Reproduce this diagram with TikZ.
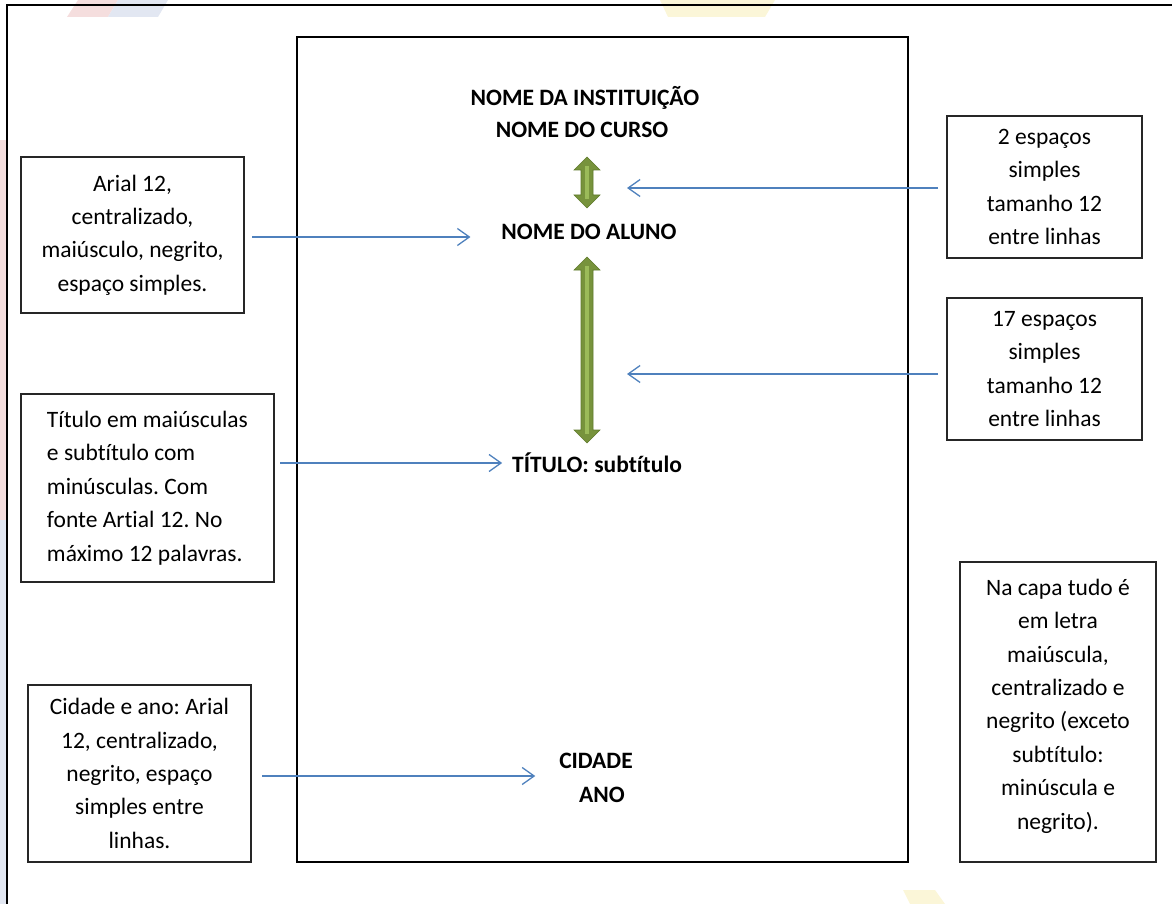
\documentclass[tikz,border=0pt]{standalone}
\usepackage{fontspec}
\setmainfont{Carlito}[Ligatures=NoCommon]
\usetikzlibrary{arrows.meta,calc}
\definecolor{pointerblue}{HTML}{4F81BD}
\definecolor{arrowgreen}{HTML}{77933C}
\definecolor{arrowlight}{HTML}{9BBB59}
\definecolor{arrowedge}{HTML}{5F7A2C}
\definecolor{markred}{HTML}{F5DEDE}
\definecolor{markblue}{HTML}{E2E7F2}
\definecolor{markyellow}{HTML}{FBF6D8}

% vertical double-headed spacer arrow: x, top y, bottom y
\newcommand{\spacerarrow}[3]{%
  \filldraw[fill=arrowgreen, draw=arrowedge, line width=0.6pt]
    (#1,#2) -- (#1+13,#2+13) -- (#1+6,#2+13) -- (#1+6,#3-13) -- (#1+13,#3-13)
    -- (#1,#3) -- (#1-13,#3-13) -- (#1-6,#3-13) -- (#1-6,#2+13) -- (#1-13,#2+13) -- cycle;
  \fill[arrowlight] (#1-2,#2+9) rectangle (#1+2,#3-9);
}

\begin{document}
\frenchspacing
\begin{tikzpicture}[x=1pt,y=-1pt,
  every node/.style={inner sep=0pt, outer sep=0pt},
  boxtext/.style={font=\fontsize{23.5}{33.4}\selectfont},
  infobox/.style={draw=black!85, line width=1.4pt, boxtext, align=center},
  heading/.style={font=\fontsize{23.5}{33.4}\selectfont\bfseries, anchor=base},
  pointer/.style={draw=pointerblue, line width=1.3pt,
    -{Straight Barb[length=12pt,width=17pt,line width=1.3pt]}},
]
\useasboundingbox (0,0) rectangle (1172,904);

% faint background marks
\fill[markred] (78,0) -- (118,0) -- (108,17) -- (67,17) -- cycle;
\fill[markblue] (118,0) -- (168,0) -- (158,17) -- (108,17) -- cycle;
\fill[markyellow] (660,0) -- (775,0) -- (765,17) -- (668,17) -- cycle;
\fill[markyellow] (903,890) -- (935,890) -- (945,904) -- (910,904) -- cycle;
\fill[markred] (0,140) rectangle (6,520);
\fill[markblue] (0,520) rectangle (6,904);

% outer frame (continues past the right and bottom edges)
\draw[line width=1.3pt] (1172,5) -- (7,5) -- (7,904);

% cover page
\node[draw, line width=1.3pt, minimum width=611, minimum height=825] (page) at (602.5,449.5) {};

% cover contents
\node[heading] (inst)   at (585,106) {NOME DA INSTITUIÇÃO};
\node[heading] (curso)  at (582,138) {NOME DO CURSO};
\node[heading] (aluno)  at (589,240) {NOME DO ALUNO};
\node[heading] (titulo) at (597,472) {TÍTULO: subtítulo};
\node[heading] (cidade) at (596,768) {CIDADE};
\node[heading] (ano)    at (602,802) {ANO};

% spacing arrows
\spacerarrow{587}{157}{208}
\spacerarrow{587}{257}{443}

% explanation boxes
\node[infobox, minimum width=223, minimum height=156] (b1) at (132.5,235)
  {Arial 12,\\centralizado,\\maiúsculo, negrito,\\espaço simples.};
\node[infobox, align=left, minimum width=253, minimum height=188] (b2) at (147.5,488)
  {Título em maiúsculas\\e subtítulo com\\minúsculas. Com\\fonte Artial 12. No\\máximo 12 palavras.};
\node[infobox, minimum width=223, minimum height=177] (b3) at (139.5,773.5)
  {Cidade e ano: Arial\\12, centralizado,\\negrito, espaço\\simples entre\\linhas.};
\node[infobox, minimum width=195, minimum height=142] (b4) at (1044.5,187)
  {2 espaços\\simples\\tamanho 12\\entre linhas};
\node[infobox, minimum width=195, minimum height=142] (b5) at (1044.5,369)
  {17 espaços\\simples\\tamanho 12\\entre linhas};
\node[infobox, minimum width=196, minimum height=300] (b6) at (1058,712) {};
\node[boxtext, align=center] (b6text) at (1058,706)
  {Na capa tudo é\\em letra\\maiúscula,\\centralizado e\\negrito (exceto\\subtítulo:\\minúscula e\\negrito).};

% pointers
\coordinate (tip4) at (627,188);
\coordinate (tip5) at (627,374);
\draw[pointer] ($(b1.east)+(8,2)$) -- ($(aluno.west |- b1.east)+(-31,2)$);
\draw[pointer] ($(b2.east)+(6,-25)$) -- ($(titulo.west |- b2.east)+(-10,-25)$);
\draw[pointer] ($(b3.east)+(11,2.5)$) -- ($(cidade.west |- b3.east)+(-24,2.5)$);
\draw[pointer] ($(b4.west)+(-9,1)$) -- (tip4);
\draw[pointer] ($(b5.west)+(-9,5)$) -- (tip5);
\end{tikzpicture}
\end{document}
